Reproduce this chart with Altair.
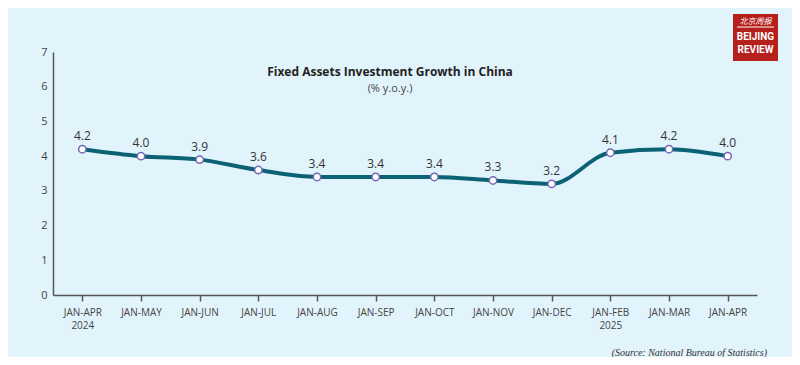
import altair as alt
import pandas as pd

periods = ["JAN-APR\n2024", "JAN-MAY", "JAN-JUN", "JAN-JUL", "JAN-AUG", "JAN-SEP",
           "JAN-OCT", "JAN-NOV", "JAN-DEC", "JAN-FEB\n2025", "JAN-MAR", "JAN-APR"]
growth = [4.2, 4.0, 3.9, 3.6, 3.4, 3.4, 3.4, 3.3, 3.2, 4.1, 4.2, 4.0]
y_ticks = [0, 1, 2, 3, 4, 5, 6, 7]

title_text = "Fixed Assets Investment Growth in China"
subtitle_text = "(% y.o.y.)"
source_text = "(Source: National Bureau of Statistics)"

df = pd.DataFrame({"period": periods, "growth": growth,
                   "label": [f"{v:.1f}" for v in growth]})

BG = "#e2f4fb"
AXIS = "#555555"

x_enc = alt.X("period:N", sort=periods, title=None,
              scale=alt.Scale(type="point", padding=0.5),
              axis=alt.Axis(labelAngle=0, labelExpr="split(datum.label, '\\n')",
                            labelFontSize=10, labelColor="#444444", labelPadding=6,
                            tickSize=6, tickColor=AXIS, tickWidth=1.5,
                            domainColor=AXIS, domainWidth=1.5, grid=False,
                            labelFont="Open Sans", labelLineHeight=13,
                            labelOverlap=False))
y_enc = alt.Y("growth:Q", title=None,
              scale=alt.Scale(domain=[0, 7], nice=False, zero=True),
              axis=alt.Axis(values=y_ticks, ticks=False, grid=False,
                            domainColor=AXIS, domainWidth=1.5,
                            labelFontSize=11, labelColor="#444444", labelPadding=6,
                            labelFont="Open Sans", labelOverlap=False,
                            labelFlush=False, labelBound=False))

base = alt.Chart(df)

line = base.mark_line(color="#0b6274", strokeWidth=4, interpolate="monotone").encode(
    x=x_enc, y=y_enc)
points = base.mark_point(filled=False, fill="white", fillOpacity=1, stroke="#7468b4",
                         strokeWidth=1.5, size=55, opacity=1).encode(
    x=x_enc, y=y_enc)
labels = base.mark_text(dy=-13, fontSize=12, color="#333333", font="Open Sans").encode(
    x=x_enc, y=y_enc, text="label:N")

title = alt.Chart(pd.DataFrame({"t": [title_text]})).mark_text(
    fontSize=12, fontWeight="bold", color="#222222", font="Open Sans"
).encode(x=alt.value(337), y=alt.value(20), text="t:N")
subtitle = alt.Chart(pd.DataFrame({"t": [subtitle_text]})).mark_text(
    fontSize=11, color="#444444", font="Open Sans"
).encode(x=alt.value(337), y=alt.value(37), text="t:N")
source = alt.Chart(pd.DataFrame({"t": [source_text]})).mark_text(
    fontSize=10, fontStyle="italic", color="#333333", font="Liberation Serif", align="right"
).encode(x=alt.value(714), y=alt.value(301), text="t:N")

logo_box = alt.Chart(pd.DataFrame({"a": [0]})).mark_rect(color="#b5201c").encode(
    x=alt.value(680), x2=alt.value(725), y=alt.value(-38), y2=alt.value(9))
logo_rule = alt.Chart(pd.DataFrame({"a": [0]})).mark_rule(color="white", strokeWidth=1).encode(
    x=alt.value(684), x2=alt.value(721), y=alt.value(-25))
logo_cn = alt.Chart(pd.DataFrame({"t": ["北京周报"]})).mark_text(
    fontSize=8, color="white", font="Noto Sans CJK SC", fontStyle="italic"
).encode(x=alt.value(702.5), y=alt.value(-30), text="t:N")
logo_en1 = alt.Chart(pd.DataFrame({"t": ["BEIJING"]})).mark_text(
    fontSize=10, fontWeight="bold", color="white", font="Roboto"
).encode(x=alt.value(702.5), y=alt.value(-15), text="t:N")
logo_en2 = alt.Chart(pd.DataFrame({"t": ["REVIEW"]})).mark_text(
    fontSize=10, fontWeight="bold", color="white", font="Roboto"
).encode(x=alt.value(702.5), y=alt.value(-2), text="t:N")

chart = alt.layer(line, points, labels, title, subtitle, source,
                  logo_box, logo_rule, logo_cn, logo_en1, logo_en2).properties(
    width=704, height=243,
    autosize=alt.AutoSizeParams(type="none"),
    padding={"left": 45, "top": 44, "right": 35, "bottom": 62},
    background=BG,
).configure_view(stroke=None)

chart.save("out.html", embed_options={"renderer": "svg", "actions": False})
